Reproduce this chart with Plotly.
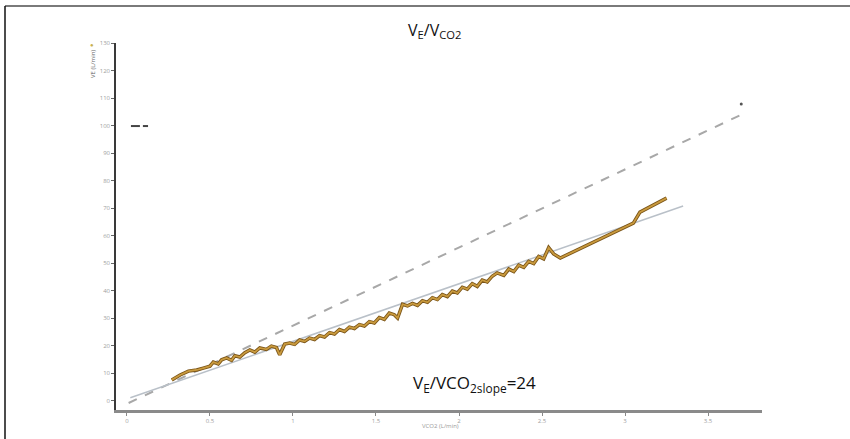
import plotly.graph_objects as go

# ---- data ----
vco2 = [0.27, 0.32, 0.37, 0.42, 0.46, 0.50, 0.52, 0.55, 0.57, 0.60, 0.63, 0.65, 0.68, 0.71, 0.74,
        0.77, 0.80, 0.84, 0.87, 0.90, 0.92, 0.95, 0.98, 1.01, 1.04, 1.07, 1.10, 1.13, 1.16, 1.19,
        1.22, 1.25, 1.28, 1.31, 1.34, 1.37, 1.40, 1.43, 1.46, 1.49, 1.52, 1.55, 1.58, 1.61, 1.63,
        1.66, 1.69, 1.72, 1.75, 1.78, 1.81, 1.84, 1.87, 1.90, 1.93, 1.96, 1.99, 2.02, 2.05, 2.08,
        2.11, 2.14, 2.17, 2.20, 2.23, 2.27, 2.30, 2.33, 2.36, 2.39, 2.42, 2.45, 2.48, 2.51, 2.54,
        2.57, 2.61, 3.05, 3.09, 3.25]
ve = [7.5, 9.3, 10.7, 11.1, 11.8, 12.5, 14.0, 13.3, 14.8, 15.5, 14.6, 16.3, 15.8, 17.4, 18.4,
      17.6, 19.1, 18.6, 19.8, 19.3, 16.6, 20.5, 20.9, 20.4, 22.0, 21.5, 22.7, 22.2, 23.6, 23.1,
      24.7, 24.2, 25.8, 25.1, 26.7, 26.2, 27.6, 27.1, 28.7, 28.2, 30.2, 29.5, 31.8, 31.2, 30.0,
      35.0, 34.4, 35.3, 34.6, 36.3, 35.7, 37.4, 36.7, 38.5, 37.8, 39.8, 39.1, 41.2, 40.5, 42.5,
      41.5, 43.8, 43.1, 45.2, 46.4, 45.5, 47.8, 46.9, 49.2, 48.4, 50.6, 49.8, 52.4, 51.5, 55.6,
      53.3, 51.8, 64.5, 68.5, 73.6]

fit_x = [0.02, 3.35]
fit_y = [1.0, 70.7]

ref_x = [0.01, 3.72]
ref_y = [-0.9, 104.5]

end_dot_x = [3.70]
end_dot_y = [107.8]

legend_mark_x = [0.024, 0.078, None, 0.096, 0.127]
legend_mark_y = [99.8, 99.8, None, 99.8, 99.8]

x_ticks = [0, 0.5, 1.0, 1.5, 2.0, 2.5, 3.0, 3.5]
y_ticks = [0, 10, 20, 30, 40, 50, 60, 70, 80, 90, 100, 110, 120, 130]

fig = go.Figure()

fig.add_trace(go.Scatter(x=ref_x, y=ref_y, mode="lines",
                         line=dict(color="#a8a8a8", width=2, dash="dash"),
                         hoverinfo="skip", showlegend=False))
fig.add_trace(go.Scatter(x=fit_x, y=fit_y, mode="lines",
                         line=dict(color="#b9c0c8", width=1.5),
                         hoverinfo="skip", showlegend=False))
fig.add_trace(go.Scatter(x=vco2, y=ve, mode="lines",
                         line=dict(color="#7a5418", width=3.5),
                         hoverinfo="skip", showlegend=False))
fig.add_trace(go.Scatter(x=vco2, y=ve, mode="lines",
                         line=dict(color="#c99a3e", width=1.8),
                         showlegend=False))
fig.add_trace(go.Scatter(x=end_dot_x, y=end_dot_y, mode="markers",
                         marker=dict(color="#555555", size=3),
                         hoverinfo="skip", showlegend=False))
fig.add_trace(go.Scatter(x=legend_mark_x, y=legend_mark_y, mode="lines",
                         line=dict(color="#444444", width=2),
                         hoverinfo="skip", showlegend=False))

L, R, T, B = 116, 88, 43, 29
W, H = 850, 439
pw, ph = W - L - R, H - T - B


def px(xp):
    return (xp - L) / pw


def py(yp):
    return (H - B - yp) / ph


fig.update_layout(
    width=W, height=H,
    margin=dict(l=L, r=R, t=T, b=B),
    paper_bgcolor="white", plot_bgcolor="white",
    showlegend=False,
    xaxis=dict(range=[-0.066, 3.825], showgrid=False, zeroline=False,
               showline=True, linecolor="#8a8a8a", linewidth=3,
               tickvals=x_ticks, ticks="outside", ticklen=3, tickcolor="#888",
               tickfont=dict(size=6, color="#a0a0a0"), fixedrange=True),
    yaxis=dict(range=[-3.45, 130], showgrid=False, zeroline=False,
               showline=True, linecolor="#3a3a3a", linewidth=1.5,
               tickvals=y_ticks, ticks="outside", ticklen=3, tickcolor="#666",
               tickfont=dict(size=6, color="#a0a0a0"), fixedrange=True),
    font=dict(family="Open Sans, sans-serif"),
    shapes=[
        dict(type="line", xref="paper", yref="paper", x0=px(5), x1=px(850),
             y0=py(6), y1=py(6), line=dict(color="#7a7a7a", width=2)),
        dict(type="line", xref="paper", yref="paper", x0=px(5), x1=px(5),
             y0=py(6), y1=py(439), line=dict(color="#111111", width=1.5)),
    ],
    annotations=[
        dict(text="V<sub>E</sub>/V<sub>CO2</sub>", xref="paper", yref="paper",
             x=px(434), y=py(30), xanchor="center", yanchor="middle", showarrow=False,
             font=dict(size=16, color="#111111")),
        dict(text="V<sub>E</sub>/VCO<sub>2slope</sub>=24", xref="paper", yref="paper",
             x=px(474), y=py(383), xanchor="center", yanchor="middle", showarrow=False,
             font=dict(size=17, color="#111111")),
        dict(text="●", xref="paper", yref="paper", x=px(92), y=py(45),
             xanchor="center", yanchor="middle",
             showarrow=False, font=dict(size=6, color="#c8b050")),
        dict(text="VE (L/min)", xref="paper", yref="paper", x=px(93), y=py(64),
             xanchor="center", yanchor="middle",
             showarrow=False, textangle=-90, font=dict(size=6, color="#666666")),
        dict(text="VCO2 (L/min)", xref="paper", yref="paper", x=px(440), y=py(426),
             xanchor="center", yanchor="middle",
             showarrow=False, font=dict(size=6, color="#9a9a9a")),
    ],
)

fig.write_html(
    "out.html",
    config={"displayModeBar": False, "staticPlot": False},
    post_script=("document.body.style.margin='0';"
                 "document.body.style.overflow='hidden';"
                 "document.documentElement.style.overflow='hidden';"),
)
